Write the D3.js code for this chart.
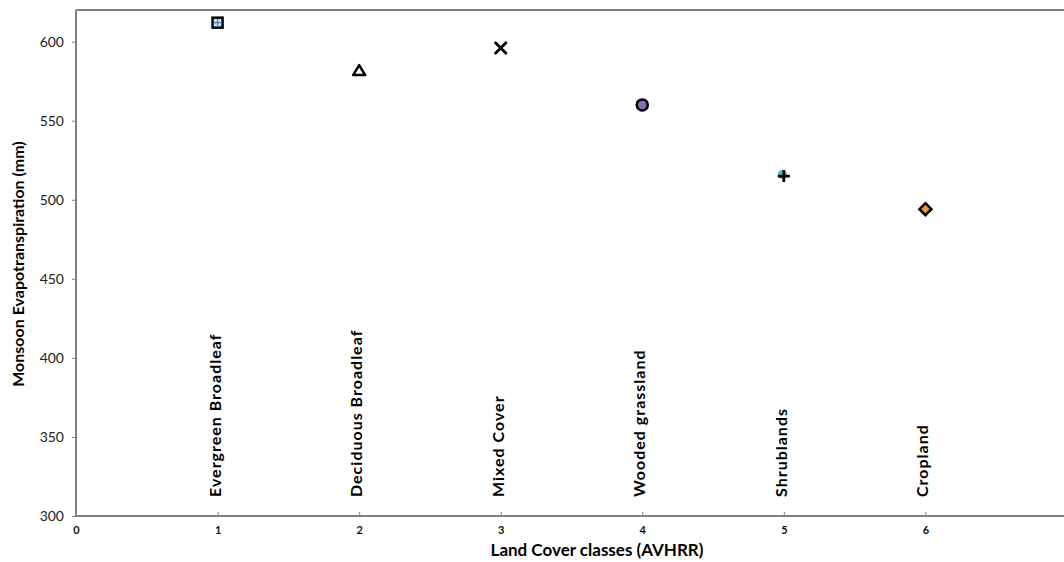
<!DOCTYPE html>
<html>
<head>
<meta charset="utf-8">
<script src="https://cdn.jsdelivr.net/npm/d3@7"></script>
<style>
  body { margin: 0; background: #fff; }
  text { font-family: Lato, "Open Sans", sans-serif; }
</style>
</head>
<body>
<div id="chart"></div>
<script>
// land cover classes vs monsoon ET
const classes = [1, 2, 3, 4, 5, 6];
const names = ["Evergreen Broadleaf", "Deciduous Broadleaf", "Mixed  Cover",
               "Wooded grassland", "Shrublands", "Cropland"];
const et = [612, 582, 596, 560, 515, 494];
const shapes = ["square", "triangle", "cross", "circle", "plus", "diamond"];
const fills = ["#cfe3f5", "#ffffff", "#7fbf3f", "#8a6bbf", "#4bb8d8", "#f0963c"];
const xTicks = [0, 1, 2, 3, 4, 5, 6, 7];
const yTicks = [300, 350, 400, 450, 500, 550, 600];

const w = 1064, h = 562;
const mLeft = 76, mTop = 10, mBottom = 516;

const svg = d3.select("#chart").append("svg")
  .attr("width", w).attr("height", h);

const x = d3.scaleLinear().domain([0, 7]).range([mLeft, 1067]);
const y = d3.scaleLinear().domain([300, 620]).range([mBottom, mTop]);

// frame (top line + axes)
svg.append("line")
  .attr("x1", mLeft).attr("x2", w).attr("y1", mTop).attr("y2", mTop)
  .attr("stroke", "#7f7f7f").attr("stroke-width", 2);

const yAx = svg.append("g")
  .attr("transform", `translate(${mLeft},0)`)
  .call(d3.axisLeft(y).tickValues(yTicks).tickSize(4).tickPadding(8));
yAx.select(".domain").attr("stroke", "#7f7f7f").attr("stroke-width", 2)
  .attr("d", `M0,${mTop}V${mBottom}`);
yAx.selectAll(".tick line").attr("stroke", "#7f7f7f");
yAx.selectAll(".tick text").attr("font-size", 14).attr("fill", "#222");

const xAx = svg.append("g")
  .attr("transform", `translate(0,${mBottom})`)
  .call(d3.axisBottom(x).tickValues(xTicks).tickFormat(d3.format("d"))
    .tickSize(-4).tickPadding(10));
xAx.select(".domain").attr("stroke", "#7f7f7f").attr("stroke-width", 2)
  .attr("d", `M${mLeft},0H${w}`);
xAx.selectAll(".tick line").attr("stroke", "#7f7f7f");
xAx.selectAll(".tick text").attr("font-size", 11).attr("font-weight", "bold")
  .attr("fill", "#111");

// axis titles
svg.append("text")
  .attr("x", 597).attr("y", 556)
  .attr("text-anchor", "middle")
  .attr("font-size", 17).attr("font-weight", "bold")
  .text("Land Cover classes (AVHRR)");

svg.append("text")
  .attr("transform", `translate(24,${(mTop + mBottom) / 2 + 1}) rotate(-90)`)
  .attr("text-anchor", "middle")
  .attr("font-size", 16).attr("font-weight", "bold")
  .text("Monsoon  Evapotranspiration (mm)");

// class names, rotated
svg.selectAll(".cls")
  .data(classes)
  .enter().append("text")
    .attr("class", "cls")
    .attr("transform", d => `translate(${x(d) + 3},497) rotate(-90)`)
    .attr("text-anchor", "start")
    .attr("font-size", 16).attr("font-weight", "bold")
    .attr("letter-spacing", 1)
    .text((d, i) => names[i]);

// markers
const g = svg.selectAll(".pt")
  .data(classes)
  .enter().append("g")
    .attr("class", "pt")
    .attr("transform", (d, i) => `translate(${x(d)},${y(et[i])})`);

g.each(function(d, i) {
  const m = d3.select(this);
  const s = shapes[i];
  if (s === "square") {
    m.append("rect").attr("x", -5).attr("y", -5).attr("width", 10).attr("height", 10)
      .attr("fill", fills[i]).attr("stroke", "#000").attr("stroke-width", 2.5);
    m.append("path").attr("d", "M0,-4V4M-4,0H4").attr("stroke", "#3a7fd0").attr("stroke-width", 1.2);
  } else if (s === "triangle") {
    m.append("path").attr("d", "M0,-5L6,5H-6Z")
      .attr("fill", fills[i]).attr("stroke", "#000").attr("stroke-width", 2.5)
      .attr("stroke-linejoin", "round");
  } else if (s === "cross") {
    m.append("path").attr("d", "M-6,-6L6,6M6,-6L-6,6")
      .attr("stroke", "#000").attr("stroke-width", 2.8);
  } else if (s === "circle") {
    m.append("circle").attr("r", 5.5)
      .attr("fill", fills[i]).attr("stroke", "#000").attr("stroke-width", 2.5);
  } else if (s === "plus") {
    m.append("circle").attr("cx", -1.5).attr("cy", -1.5).attr("r", 4.5).attr("fill", fills[i]);
    m.append("path").attr("d", "M0,-6V6M-6,0H6")
      .attr("stroke", "#000").attr("stroke-width", 2.8);
  } else if (s === "diamond") {
    m.append("path").attr("d", "M0,-6L6,0L0,6L-6,0Z")
      .attr("fill", fills[i]).attr("stroke", "#000").attr("stroke-width", 2.5);
  }
});
</script>
</body>
</html>
